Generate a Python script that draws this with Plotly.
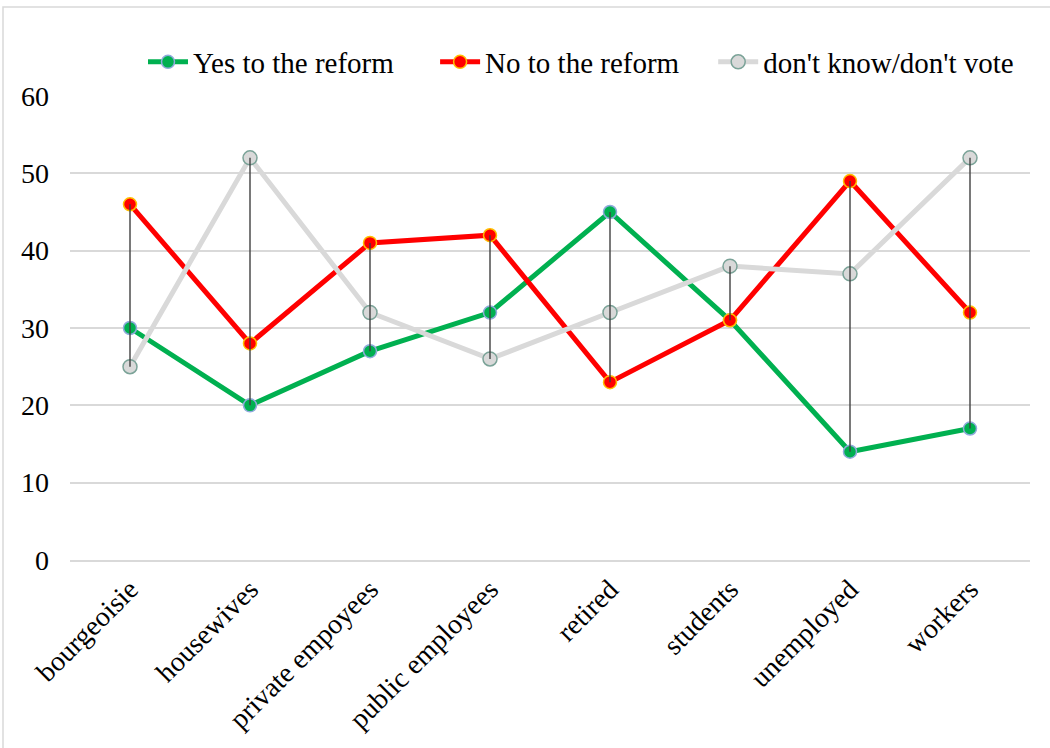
import plotly.graph_objects as go

categories = ["bourgeoisie", "housewives", "private empoyees", "public employees",
              "retired", "students", "unemployed", "workers"]
yes_vals = [30, 20, 27, 32, 45, 31, 14, 17]
no_vals = [46, 28, 41, 42, 23, 31, 49, 32]
dk_vals = [25, 52, 32, 26, 32, 38, 37, 52]
y_ticks = [0, 10, 20, 30, 40, 50, 60]

FONT = "Liberation Serif, Times New Roman, serif"
NB = "\u00a0"

fig = go.Figure()
fig.add_trace(go.Scatter(
    x=categories, y=yes_vals, name="Yes to the reform" + NB * 5, mode="lines+markers",
    line=dict(color="#00B050", width=5),
    marker=dict(size=13, color="#00B050", line=dict(color="#8FAADC", width=1.5))))
fig.add_trace(go.Scatter(
    x=categories, y=no_vals, name="No to the reform" + NB * 4, mode="lines+markers",
    line=dict(color="#FF0000", width=5),
    marker=dict(size=13, color="#FF0000", line=dict(color="#FFC000", width=1.5))))
fig.add_trace(go.Scatter(
    x=categories, y=dk_vals, name="don't know/don't vote", mode="lines+markers",
    line=dict(color="#D9D9D9", width=5),
    marker=dict(size=14, color="#D9D9D9", line=dict(color="#7BA398", width=1.5))))

# high-low lines
hx, hy = [], []
for c, a, b, d in zip(categories, yes_vals, no_vals, dk_vals):
    hx += [c, c, None]
    hy += [min(a, b, d), max(a, b, d), None]
fig.add_trace(go.Scatter(x=hx, y=hy, mode="lines", showlegend=False,
                         line=dict(color="#404040", width=1.4), hoverinfo="skip"))

fig.update_layout(
    width=1050, height=748,
    margin=dict(l=70, r=20, t=96, b=188, autoexpand=False),
    paper_bgcolor="white", plot_bgcolor="white",
    font=dict(family=FONT, size=28, color="black"),
    legend=dict(orientation="h", x=(143 - 70) / 960, xanchor="left",
                y=(560 - 62) / 464, yanchor="middle",
                font=dict(family=FONT, size=29), itemwidth=40, tracegroupgap=0),
    showlegend=True,
)
fig.update_xaxes(type="category", categoryorder="array", categoryarray=categories,
                 tickangle=-45, showgrid=False, showline=True, linecolor="#D9D9D9",
                 linewidth=1.5, ticks="", range=[-0.5, 7.5], automargin=False,
                 tickfont=dict(family=FONT, size=28))
fig.update_yaxes(range=[0, 60], tickvals=y_ticks, showgrid=True, gridcolor="#D9D9D9",
                 gridwidth=1.5, zeroline=False, showline=False, automargin=False,
                 tickfont=dict(family=FONT, size=28), ticklen=0, ticklabelstandoff=20)
fig.add_shape(type="rect", xref="paper", yref="paper",
              x0=(3 - 70) / 960, x1=1.05, y0=-0.45, y1=(560 - 7) / 464,
              line=dict(color="#D9D9D9", width=1.5), fillcolor="rgba(0,0,0,0)", layer="below")

fig.write_html("out.html", config={"displayModeBar": False},
               post_script="document.body.style.margin='0';")
